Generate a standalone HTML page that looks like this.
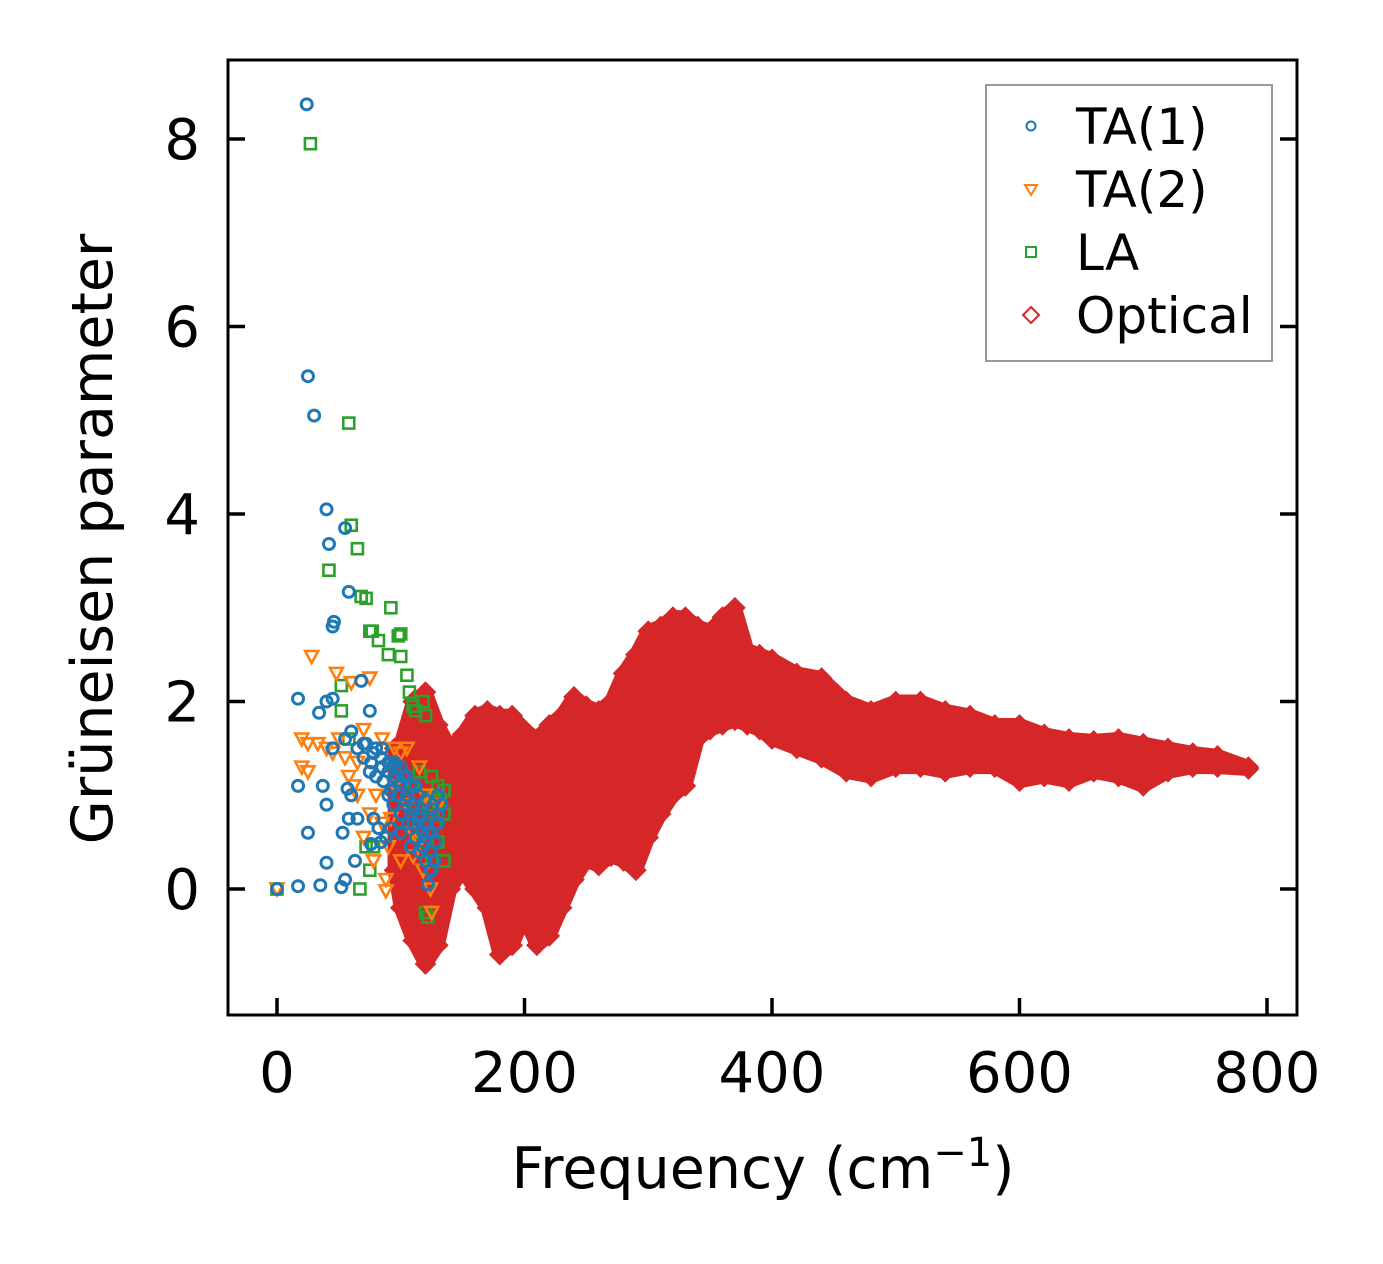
<!DOCTYPE html>
<html><head><meta charset="utf-8"><style>
html,body{margin:0;padding:0;background:#fff;}
svg{display:block;font-family:"DejaVu Sans","Liberation Sans",sans-serif;}
</style></head><body>
<svg id="chart" width="1383" height="1264" viewBox="0 0 1383 1264" xmlns="http://www.w3.org/2000/svg">
<rect width="1383" height="1264" fill="#fff"/>
<g id="plot"></g>
<g id="axes"></g>
<text x="763" y="1188" font-size="57" text-anchor="middle">Frequency (cm<tspan dy="-22" font-size="40">−1</tspan><tspan dy="22">)</tspan></text>
<text transform="translate(112,539) rotate(-90)" font-size="57" text-anchor="middle">Grüneisen parameter</text>
<g>
<rect x="986" y="85" width="286" height="276" fill="#fff" stroke="#999" stroke-width="2"/>
<g><circle cx="1031" cy="126" r="4.5" fill="none" stroke="#1f77b4" stroke-width="2"/><text x="1076" y="144" font-size="50">TA(1)</text></g>
<g><path d="M1025,185 L1037,185 L1031,195 Z" fill="none" stroke="#ff7f0e" stroke-width="2"/><text x="1076" y="207" font-size="50">TA(2)</text></g>
<g><rect x="1026" y="247" width="10" height="10" fill="none" stroke="#2ca02c" stroke-width="2"/><text x="1076" y="270" font-size="50">LA</text></g>
<g><path d="M1031,307 L1039,315 L1031,323 L1023,315 Z" fill="none" stroke="#d62728" stroke-width="2"/><text x="1076" y="333" font-size="50">Optical</text></g>
</g>
</svg>
<script>
const xTicks=[0,200,400,600,800];
const yTicks=[0,2,4,6,8];
// Optical envelope: frequency, upper and lower gamma
const optFreq=[95,100,110,120,130,140,150,160,170,180,190,200,210,220,230,240,250,260,270,280,290,300,310,320,330,340,350,360,370,380,390,400,420,440,460,480,500,520,540,560,580,600,620,640,660,680,700,720,740,760,785];
const optUpper=[1.5,1.55,2.0,2.1,1.75,1.5,1.65,1.85,1.9,1.85,1.85,1.7,1.6,1.75,1.85,2.05,1.95,1.9,2.0,2.3,2.5,2.75,2.8,2.9,2.9,2.8,2.75,2.9,3.0,2.55,2.5,2.45,2.3,2.25,2.0,1.9,2.0,2.0,1.9,1.85,1.75,1.75,1.65,1.6,1.58,1.6,1.55,1.5,1.45,1.42,1.3];
const optLower=[0.2,-0.2,-0.55,-0.8,-0.6,0.0,0.2,0.0,-0.2,-0.7,-0.6,-0.3,-0.6,-0.5,-0.2,0.1,0.3,0.25,0.35,0.3,0.2,0.55,0.8,1.0,1.1,1.6,1.7,1.75,1.8,1.75,1.7,1.6,1.5,1.4,1.25,1.2,1.3,1.3,1.25,1.3,1.3,1.15,1.2,1.15,1.25,1.2,1.1,1.25,1.3,1.3,1.28];
// TA(1)
const ta1F=[0,17,24,25,30,40,42,55,58,46,45,17,45,40,34,17,25,35,52,55,40,63,53,58,65,40,37,57,60,45,55,60,70,75,68,80,65,70,75,80,85,90,95,100,105,110,115,120,125,128,125,122,127,90,100,110,115,120,105,95,85,130,133,78,82,88,76,72,78,84,90,96,102,108,114,120,126,130,86,92,98,104,110,116,122,128,94,100,106,112,118,124,118,112,124,130,108,100,92,84,76];
const ta1G=[0,0.03,8.37,5.47,5.05,4.05,3.68,3.85,3.17,2.85,2.8,2.03,2.03,2.0,1.88,1.1,0.6,0.04,0.02,0.1,0.28,0.3,0.6,0.75,0.75,0.9,1.1,1.07,1.0,1.5,1.6,1.68,1.55,1.9,2.22,1.5,1.5,1.4,1.25,1.2,1.3,1.25,1.2,1.15,1.0,0.9,0.8,0.7,0.6,0.5,0.2,0.05,0.3,1.0,0.8,0.7,0.4,0.3,1.2,1.35,1.5,0.7,0.9,0.75,0.65,0.55,0.48,1.55,1.45,1.4,1.35,1.3,1.2,1.1,1.0,0.95,0.85,0.8,1.15,1.05,1.0,0.95,0.85,0.75,0.6,0.5,0.9,0.6,0.7,0.55,0.45,0.4,0.6,1.1,0.2,1.0,0.45,1.3,0.65,0.5,1.35];
// TA(2)
const ta2F=[0,28,48,75,60,20,25,33,40,45,20,25,55,65,70,85,95,100,105,65,75,85,90,88,110,115,105,120,125,88,100,95,115,130,50,58,62,80,92,110,118,124,70,78];
const ta2G=[0,2.48,2.3,2.25,2.2,1.6,1.55,1.55,1.5,1.45,1.3,1.25,1.4,1.35,1.7,1.6,1.5,1.45,1.5,1.0,0.8,0.7,0.45,0.1,0.35,0.5,0.9,1.0,-0.25,-0.02,0.3,1.1,1.3,0.9,1.6,1.2,1.1,1.0,0.75,0.6,0.2,0.0,0.55,0.3];
// LA
const laF=[0,27,58,60,65,42,68,72,75,77,92,98,100,82,90,100,105,107,110,112,52,52,118,120,58,72,67,75,78,115,125,130,135,135,130,125,120,122,110,118,135,132,128,122,126,116];
const laG=[0,7.95,4.97,3.88,3.63,3.4,3.12,3.1,2.75,2.75,3.0,2.7,2.72,2.65,2.5,2.48,2.28,2.1,1.95,1.9,2.17,1.9,2.0,1.85,1.6,0.45,0,0.2,0.45,1.25,1.2,1.1,1.05,0.8,0.5,0.3,-0.25,-0.3,1.1,0.6,0.3,0.95,0.7,0.9,1.0,0.8];

const X=f=>277+f*1.2375;
const Y=g=>889-g*93.75;
const NS='http://www.w3.org/2000/svg';
const plot=document.getElementById('plot');
const axes=document.getElementById('axes');
function mk(tag,attrs,parent){const e=document.createElementNS(NS,tag);for(const k in attrs)e.setAttribute(k,attrs[k]);parent.appendChild(e);return e;}
const clip=mk('clipPath',{id:'clp'},plot);mk('rect',{x:230,y:62,width:1065,height:951},clip);
const g=mk('g',{'clip-path':'url(#clp)'},plot);
let pts=[];
for(let i=0;i<optFreq.length;i++)pts.push(X(optFreq[i])+','+Y(optUpper[i]));
for(let i=optFreq.length-1;i>=0;i--)pts.push(X(optFreq[i])+','+Y(optLower[i]));
const band=mk('polygon',{points:pts.join(' '),fill:'#d62728',stroke:'#d62728','stroke-width':14,'stroke-linejoin':'round'},g);


function diamond(f,v){const x=X(f),y=Y(v);const d=mk('path',{d:`M${x},${y-9}L${x+9},${y}L${x},${y+9}L${x-9},${y}Z`,fill:'none',stroke:'#d62728','stroke-width':2.6},g);

}
for(let i=0;i<optFreq.length;i++){diamond(optFreq[i],optUpper[i]);diamond(optFreq[i],optLower[i]);}
for(let i=0;i<laF.length;i++){const x=X(laF[i]),y=Y(laG[i]);const r=mk('rect',{x:x-5.5,y:y-5.5,width:11,height:11,fill:'none',stroke:'#2ca02c','stroke-width':2.6},g);

}
for(let i=0;i<ta2F.length;i++){const x=X(ta2F[i]),y=Y(ta2G[i]);const p=mk('path',{d:`M${x-6.5},${y-5.5}L${x+6.5},${y-5.5}L${x},${y+6.5}Z`,fill:'none',stroke:'#ff7f0e','stroke-width':2.6},g);

}
for(let i=0;i<ta1F.length;i++){const c=mk('circle',{cx:X(ta1F[i]),cy:Y(ta1G[i]),r:5.5,fill:'none',stroke:'#1f77b4','stroke-width':3},g);

}
const fr=mk('rect',{x:228,y:60,width:1069,height:955,fill:'none',stroke:'#000','stroke-width':3},axes);


xTicks.forEach(t=>{const x=X(t);
const l=mk('line',{x1:x,y1:1015,x2:x,y2:998,stroke:'#000','stroke-width':3.5},axes);


const tx=mk('text',{x:x,y:1092,'font-size':56,'text-anchor':'middle'},axes);tx.textContent=t;

});
yTicks.forEach(t=>{const y=Y(t);
const l=mk('line',{x1:228,y1:y,x2:245,y2:y,stroke:'#000','stroke-width':3.5},axes);


const r=mk('line',{x1:1297,y1:y,x2:1280,y2:y,stroke:'#000','stroke-width':3.5},axes);


const tx=mk('text',{x:200,y:y+20,'font-size':56,'text-anchor':'end'},axes);tx.textContent=t;

});
</script>
</body></html>
